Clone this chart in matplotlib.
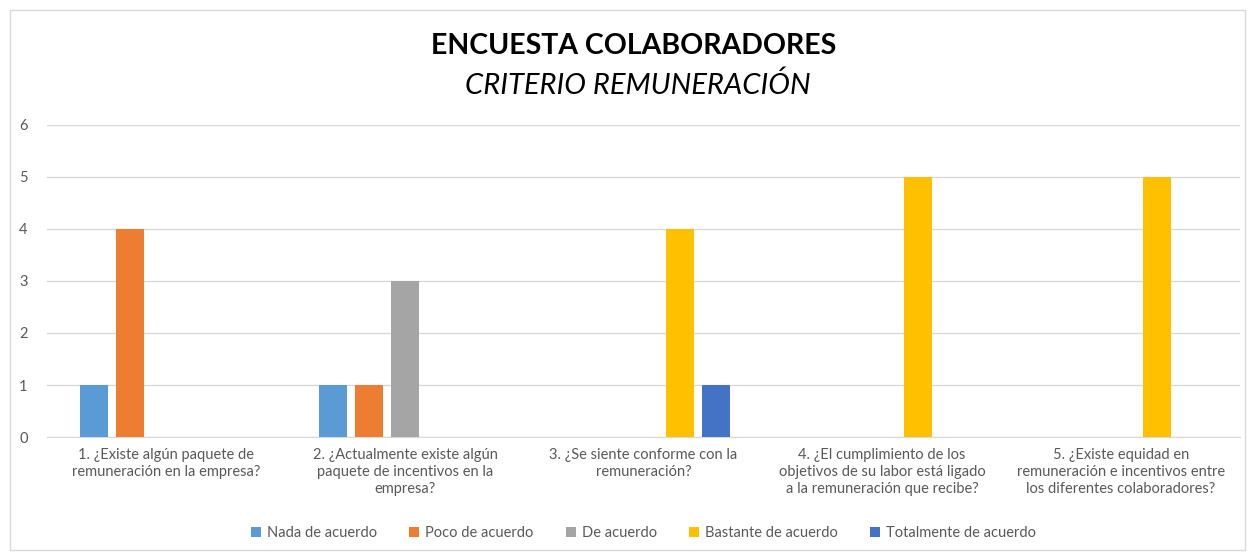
import matplotlib
matplotlib.use('Agg')
import matplotlib.pyplot as plt
import numpy as np
from matplotlib.patches import Rectangle

categories = [
    "1. ¿Existe algún paquete de\nremuneración en la empresa?",
    "2. ¿Actualmente existe algún\npaquete de incentivos en la\nempresa?",
    "3. ¿Se siente conforme con la\nremuneración?",
    "4. ¿El cumplimiento de los\nobjetivos de su labor está ligado\na la remuneración que recibe?",
    "5. ¿Existe equidad en\nremuneración e incentivos entre\nlos diferentes colaboradores?",
]
series_names = ["Nada de acuerdo", "Poco de acuerdo", "De acuerdo",
                "Bastante de acuerdo", "Totalmente de acuerdo"]
nada = [1, 1, 0, 0, 0]
poco = [4, 1, 0, 0, 0]
de_acuerdo = [0, 3, 0, 0, 0]
bastante = [0, 0, 4, 5, 5]
totalmente = [0, 0, 1, 0, 0]
colors = ["#5B9BD5", "#ED7D31", "#A5A5A5", "#FFC000", "#4472C4"]

plt.rcParams['font.family'] = ['Lato', 'DejaVu Sans']
gray = "#595959"

fig = plt.figure(figsize=(12.48, 5.55), dpi=100)
ax = fig.add_axes([0.0377, 0.2126, 0.9559, 0.5622])

x = np.arange(len(categories))
step = 0.151
width = 0.117
all_series = [nada, poco, de_acuerdo, bastante, totalmente]
for i, (vals, name, c) in enumerate(zip(all_series, series_names, colors)):
    ax.bar(x + (i - 2) * step, vals, width, color=c, label=name, zorder=3)

ax.set_xlim(-0.5, 4.5)
ax.set_ylim(0, 6)
ax.set_yticks(range(0, 7))
ax.yaxis.grid(True, color="#D9D9D9", linewidth=1, zorder=0)
ax.set_xticks(x)
ax.set_xticklabels(categories, fontsize=10.5, color=gray, linespacing=1.25)
ax.tick_params(axis='x', length=0, pad=8)
ax.tick_params(axis='y', length=0, pad=14, labelsize=10.5, labelcolor=gray)
for s in ['top', 'right', 'left']:
    ax.spines[s].set_visible(False)
ax.spines['bottom'].set_color("#D9D9D9")

fig.text(0.508, 0.918, "ENCUESTA COLABORADORES", ha='center', va='center',
         fontsize=20.5, fontweight='bold', color='black')
fig.text(0.511, 0.846, "CRITERIO REMUNERACIÓN", ha='center', va='center',
         fontsize=21, fontstyle='italic', color='black')

ax.legend(loc='center', bbox_to_anchor=(0.5, -0.308), ncol=5, frameon=False,
          fontsize=10.5, labelcolor=gray, handlelength=0.7, handleheight=0.7,
          handletextpad=0.4, columnspacing=2.2)

fig.patches.append(Rectangle((10 / 1248, 5 / 555), 1235 / 1248, 540 / 555,
                             transform=fig.transFigure, fill=False,
                             edgecolor="#D9D9D9", linewidth=1))

fig.savefig("out.png", dpi=100)
